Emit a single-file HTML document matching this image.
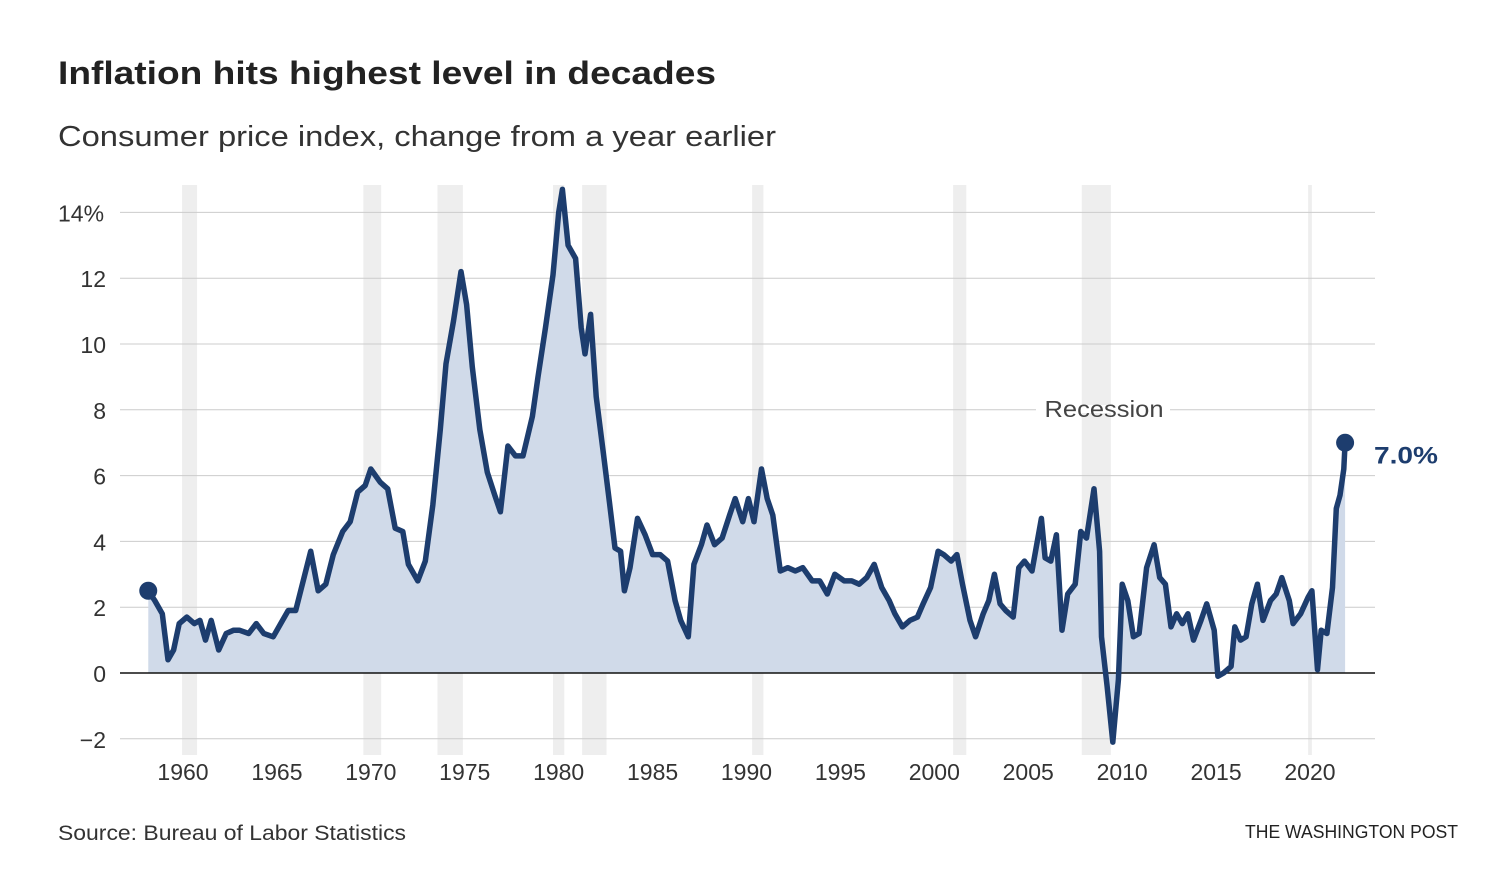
<!DOCTYPE html>
<html><head><meta charset="utf-8"><style>
body{margin:0;background:#fff;width:1498px;height:886px;overflow:hidden;font-family:"Liberation Sans",sans-serif}
</style></head><body>
<svg width="1498" height="886" id="c">
<text x="58" y="84" font-size="32" font-weight="bold" fill="#222" textLength="658" lengthAdjust="spacingAndGlyphs">Inflation hits highest level in decades</text>
<text x="58" y="146" font-size="29" fill="#333" textLength="718" lengthAdjust="spacingAndGlyphs">Consumer price index, change from a year earlier</text>
<text x="58" y="840" font-size="21" fill="#333" textLength="348" lengthAdjust="spacingAndGlyphs">Source: Bureau of Labor Statistics</text>
<text x="1458" y="838" font-size="18" fill="#222" text-anchor="end" textLength="213" lengthAdjust="spacingAndGlyphs">THE WASHINGTON POST</text>
<g id="rec"></g><g id="grid"></g><g id="area"></g>
</svg>
<script>
const recessions=[[1959.95,1960.75],[1969.6,1970.55],[1973.55,1974.9],[1979.7,1980.3],[1981.25,1982.55],[1990.3,1990.9],[2001.0,2001.7],[2007.85,2009.4],[2019.9,2020.1]];
const yTicks=[-2,0,2,4,6,8,10,12,14];
const yTickLabels=["−2","0","2","4","6","8","10","12","14%"];
const xTicks=[1960,1965,1970,1975,1980,1985,1990,1995,2000,2005,2010,2015,2020];
const years=[1958.15,1958.5,1958.9,1959.2,1959.5,1959.8,1960.2,1960.6,1960.9,1961.2,1961.5,1961.9,1962.3,1962.7,1963.0,1963.5,1963.9,1964.3,1964.8,1965.2,1965.6,1966.0,1966.4,1966.8,1967.2,1967.6,1968.0,1968.5,1968.9,1969.3,1969.7,1970.0,1970.5,1970.9,1971.3,1971.7,1972.0,1972.5,1972.9,1973.3,1973.7,1974.0,1974.4,1974.8,1975.1,1975.4,1975.8,1976.2,1976.6,1976.9,1977.3,1977.7,1978.1,1978.6,1978.9,1979.3,1979.7,1980.0,1980.2,1980.5,1980.9,1981.2,1981.4,1981.7,1982.0,1982.4,1982.7,1983.0,1983.3,1983.5,1983.8,1984.2,1984.6,1985.0,1985.4,1985.8,1986.2,1986.5,1986.9,1987.2,1987.6,1987.9,1988.3,1988.7,1989.1,1989.4,1989.8,1990.1,1990.4,1990.8,1991.1,1991.4,1991.8,1992.2,1992.6,1993.0,1993.5,1993.9,1994.3,1994.7,1995.2,1995.6,1996.0,1996.4,1996.8,1997.2,1997.6,1997.9,1998.3,1998.7,1999.1,1999.4,1999.8,2000.2,2000.5,2000.9,2001.2,2001.5,2001.9,2002.2,2002.6,2002.9,2003.2,2003.5,2003.8,2004.2,2004.5,2004.8,2005.2,2005.7,2005.9,2006.2,2006.5,2006.8,2007.1,2007.5,2007.8,2008.1,2008.5,2008.8,2008.9,2009.2,2009.5,2009.8,2010.0,2010.3,2010.6,2010.9,2011.3,2011.7,2012.0,2012.3,2012.6,2012.9,2013.2,2013.5,2013.8,2014.2,2014.5,2014.9,2015.1,2015.4,2015.8,2016.0,2016.3,2016.6,2016.9,2017.2,2017.5,2017.9,2018.2,2018.5,2018.9,2019.1,2019.5,2019.9,2020.1,2020.4,2020.6,2020.9,2021.2,2021.4,2021.6,2021.8,2021.87];
const values=[2.5,2.2,1.8,0.4,0.7,1.5,1.7,1.5,1.6,1.0,1.6,0.7,1.2,1.3,1.3,1.2,1.5,1.2,1.1,1.5,1.9,1.9,2.8,3.7,2.5,2.7,3.6,4.3,4.6,5.5,5.7,6.2,5.8,5.6,4.4,4.3,3.3,2.8,3.4,5.1,7.4,9.4,10.7,12.2,11.2,9.3,7.4,6.1,5.4,4.9,6.9,6.6,6.6,7.8,9.0,10.5,12.1,14.0,14.7,13.0,12.6,10.5,9.7,10.9,8.4,6.6,5.2,3.8,3.7,2.5,3.2,4.7,4.2,3.6,3.6,3.4,2.2,1.6,1.1,3.3,3.9,4.5,3.9,4.1,4.8,5.3,4.6,5.3,4.6,6.2,5.3,4.8,3.1,3.2,3.1,3.2,2.8,2.8,2.4,3.0,2.8,2.8,2.7,2.9,3.3,2.6,2.2,1.8,1.4,1.6,1.7,2.1,2.6,3.7,3.6,3.4,3.6,2.7,1.6,1.1,1.8,2.2,3.0,2.1,1.9,1.7,3.2,3.4,3.1,4.7,3.5,3.4,4.2,1.3,2.4,2.7,4.3,4.1,5.6,3.7,1.1,-0.4,-2.1,-0.2,2.7,2.2,1.1,1.2,3.2,3.9,2.9,2.7,1.4,1.8,1.5,1.8,1.0,1.6,2.1,1.3,-0.1,0.0,0.2,1.4,1.0,1.1,2.1,2.7,1.6,2.2,2.4,2.9,2.2,1.5,1.8,2.3,2.5,0.1,1.3,1.2,2.6,5.0,5.4,6.2,7.0];
const X=y=>183+(y-1960)*18.783, Y=v=>673-v*32.9;
const NS="http://www.w3.org/2000/svg";
function mk(t,a,p){const e=document.createElementNS(NS,t);for(const k in a)e.setAttribute(k,a[k]);p.appendChild(e);return e;}
const rec=document.getElementById('rec'),grid=document.getElementById('grid'),area=document.getElementById('area');
recessions.forEach(r=>{const e=mk('rect',{x:X(r[0]),y:185,width:X(r[1])-X(r[0]),height:570,fill:'#eeeeee'},rec);

});
yTicks.forEach((t,i)=>{if(t!==0){const l=mk('line',{x1:120,x2:1375,y1:Y(t),y2:Y(t),stroke:'#cccccc','stroke-width':1},grid);

}
const tx=mk('text',{x:i==8?58:106,y:Y(t)+9,'font-size':23,fill:'#333','text-anchor':i==8?'start':'end'},grid);tx.textContent=yTickLabels[i];

});
xTicks.forEach(t=>{
const tx=mk('text',{x:X(t),y:780,'font-size':23,fill:'#333','text-anchor':'middle'},grid);tx.textContent=t;

});
const lbg=mk('rect',{x:1036,y:405,width:134,height:8,fill:'#fff'},grid);


const rl=mk('text',{x:1104,y:417,'font-size':23,fill:'#444','text-anchor':'middle',textLength:119,lengthAdjust:'spacingAndGlyphs'},grid);rl.textContent='Recession';


let d=years.map((y,i)=>(i?'L':'M')+X(y).toFixed(1)+','+Y(values[i]).toFixed(1)).join('');
const fill=mk('path',{d:d+`L${X(years[years.length-1])},${Y(0)}L${X(years[0])},${Y(0)}Z`,fill:'#d0dae9'},area);


const zl=mk('line',{x1:120,x2:1375,y1:Y(0),y2:Y(0),stroke:'#111','stroke-width':1.5},area);


const ln=mk('path',{d:d,fill:'none',stroke:'#1d3d6e','stroke-width':5.5,'stroke-linejoin':'round'},area);


[0,years.length-1].forEach(i=>{const c=mk('circle',{cx:X(years[i]),cy:Y(values[i]),r:9,fill:'#1d3d6e'},area);

});
const vl=mk('text',{x:1374,y:Y(values[values.length-1])+21,'font-size':24,'font-weight':'bold',fill:'#1d3d6e',textLength:64,lengthAdjust:'spacingAndGlyphs'},area);
vl.textContent=values[values.length-1].toFixed(1)+'%';


</script>
</body></html>
